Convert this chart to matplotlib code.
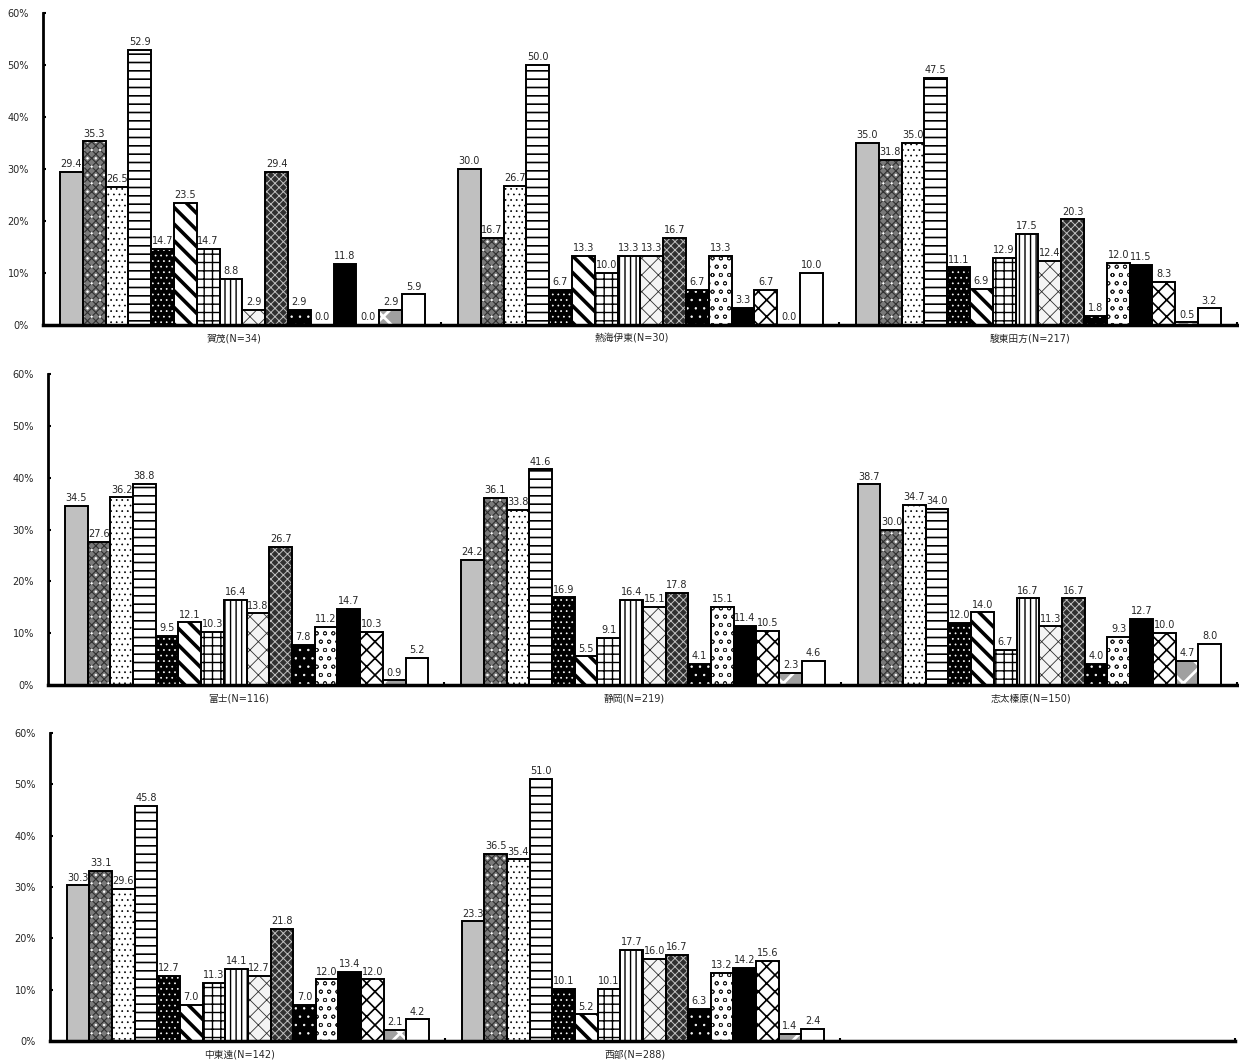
import matplotlib
matplotlib.use('Agg')
import matplotlib.pyplot as plt

plt.rcParams['font.family'] = ['DejaVu Sans', 'Noto Sans CJK JP']

# ---------------- data ----------------
row1_labels = ['賀茂(N=34)', '熱海伊東(N=30)', '駿東田方(N=217)']
row2_labels = ['富士(N=116)', '静岡(N=219)', '志太榛原(N=150)']
row3_labels = ['中東遠(N=142)', '西部(N=288)']

kamo      = [29.4, 35.3, 26.5, 52.9, 14.7, 23.5, 14.7, 8.8, 2.9, 29.4, 2.9, 0.0, 11.8, 0.0, 2.9, 5.9]
atami     = [30.0, 16.7, 26.7, 50.0, 6.7, 13.3, 10.0, 13.3, 13.3, 16.7, 6.7, 13.3, 3.3, 6.7, 0.0, 10.0]
sunto     = [35.0, 31.8, 35.0, 47.5, 11.1, 6.9, 12.9, 17.5, 12.4, 20.3, 1.8, 12.0, 11.5, 8.3, 0.5, 3.2]
fuji      = [34.5, 27.6, 36.2, 38.8, 9.5, 12.1, 10.3, 16.4, 13.8, 26.7, 7.8, 11.2, 14.7, 10.3, 0.9, 5.2]
shizuoka  = [24.2, 36.1, 33.8, 41.6, 16.9, 5.5, 9.1, 16.4, 15.1, 17.8, 4.1, 15.1, 11.4, 10.5, 2.3, 4.6]
shida     = [38.7, 30.0, 34.7, 34.0, 12.0, 14.0, 6.7, 16.7, 11.3, 16.7, 4.0, 9.3, 12.7, 10.0, 4.7, 8.0]
chutoen   = [30.3, 33.1, 29.6, 45.8, 12.7, 7.0, 11.3, 14.1, 12.7, 21.8, 7.0, 12.0, 13.4, 12.0, 2.1, 4.2]
seibu     = [23.3, 36.5, 35.4, 51.0, 10.1, 5.2, 10.1, 17.7, 16.0, 16.7, 6.3, 13.2, 14.2, 15.6, 1.4, 2.4]

yticks = [0, 10, 20, 30, 40, 50, 60]
ytick_labels = ['0%', '10%', '20%', '30%', '40%', '50%', '60%']

rows = [
    (row1_labels, [kamo, atami, sunto]),
    (row2_labels, [fuji, shizuoka, shida]),
    (row3_labels, [chutoen, seibu]),
]

# ---------------- styles (per series) ----------------
# each style: list of layers (facecolor, hatch, hatchcolor, hatch linewidth)
styles = [
    [('#c0c0c0', None, None, 0)],
    [('#7a7a7a', 'xxxx', '#303030', 0.8), ('none', '..', 'white', 0.5)],
    [('white', '...', 'black', 0.5)],
    [('white', '--', 'black', 1.2)],
    [('black', '...', 'white', 0.5)],
    [('white', '\\\\', 'black', 2.6)],
    [('white', '++', 'black', 1.0)],
    [('white', '|||', 'black', 1.0)],
    [('#f4f4f4', 'xx', '#303030', 0.6)],
    [('#303030', 'xxxx', '#c0c0c0', 0.7)],
    [('black', '..', 'white', 0.5)],
    [('white', 'oo', '#202020', 0.6)],
    [('black', None, None, 0)],
    [('white', 'xx', 'black', 1.2)],
    [('#a0a0a0', 'x', 'white', 2.0)],
    [('white', None, None, 0)],
]

# axes geometry in pixels: (spine x, right x, y of 0%, y of 60%)
W, H = 1239, 1063
geoms = [(43, 1237, 325, 13), (48, 1237, 685, 374), (50, 1235, 1041, 733)]

fig = plt.figure(figsize=(W / 100, H / 100), dpi=100)

nbar = 16
span = 0.917
bw = span / nbar
start = (1 - span) / 2 + 0.001
txtcol = '#262626'

for (labels, datasets), (xl, xr, y0, y60) in zip(rows, geoms):
    ax = fig.add_axes([xl / W, 1 - y0 / H, (xr - xl) / W, (y0 - y60) / H])
    ax.set_xlim(0, 3)
    ax.set_ylim(0, 60)
    for g, (lab, vals) in enumerate(zip(labels, datasets)):
        for i, v in enumerate(vals):
            xc = g + start + bw * (i + 0.5)
            for face, hatch, hc, hlw in styles[i]:
                bars = ax.bar(xc, v, width=bw, facecolor=face,
                              edgecolor=hc if hatch else 'none',
                              hatch=hatch, linewidth=0, zorder=2)
                for p in bars:
                    if hatch and hasattr(p, 'set_hatch_linewidth'):
                        p.set_hatch_linewidth(hlw)
            ax.bar(xc, v, width=bw, fill=False, edgecolor='black',
                   linewidth=1.4, zorder=3)
            ax.annotate(f'{v:.1f}', (xc, v), xytext=(0, 2),
                        textcoords='offset points', ha='center', va='bottom',
                        fontsize=7, color=txtcol)
        ax.annotate(lab, (g + 0.48, 0), xycoords=('data', 'axes fraction'),
                    xytext=(0, -9.5), textcoords='offset points',
                    ha='center', va='center', fontsize=7, color=txtcol)
    for s in ['top', 'right']:
        ax.spines[s].set_visible(False)
    ax.spines['left'].set_linewidth(2.0)
    ax.spines['bottom'].set_linewidth(2.5)
    ax.spines['left'].set_zorder(4)
    ax.spines['bottom'].set_zorder(4)
    ax.set_yticks(yticks)
    ax.set_yticklabels(ytick_labels)
    ax.tick_params(axis='y', direction='in', length=2.5, width=1.5,
                   labelsize=7, labelcolor=txtcol, pad=10)
    ax.set_xticks([1, 2, 3])
    ax.tick_params(axis='x', direction='in', length=2.5, width=1.5,
                   labelbottom=False)
    ax.patch.set_visible(False)

fig.savefig('out.png', dpi=100, facecolor='white')
